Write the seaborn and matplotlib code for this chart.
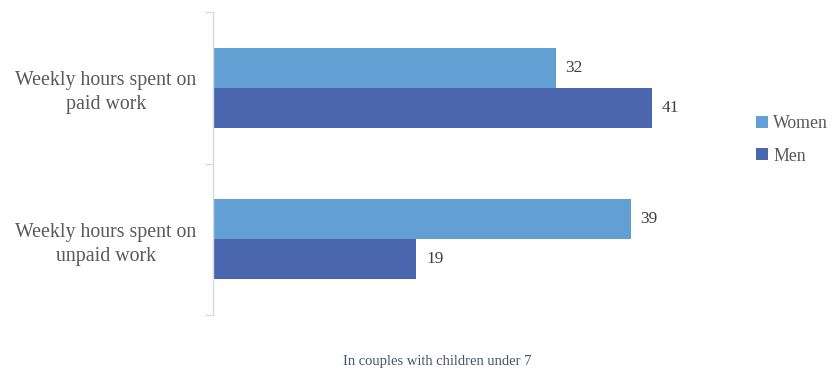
import matplotlib
matplotlib.use("Agg")
import matplotlib.pyplot as plt
import seaborn as sns
import pandas as pd

categories = ["Weekly hours spent on\npaid work", "Weekly hours spent on\nunpaid work"]
series = ["Women", "Men"]
women = [32, 39]
men = [41, 19]
caption = "In couples with children under 7"

df = pd.DataFrame({
    "category": categories * 2,
    "series": [series[0]] * 2 + [series[1]] * 2,
    "hours": women + men,
})

sns.set_theme(style="white")
plt.rcParams["font.family"] = ["Liberation Serif", "DejaVu Serif"]

fig = plt.figure(figsize=(8.32, 3.72), dpi=100)
ax = fig.add_axes([213 / 832, 1 - 315 / 372, (727 - 213) / 832, (315 - 12) / 372])

palette = {"Women": "#629FD2", "Men": "#4A66AE"}
sns.barplot(data=df, y="category", x="hours", hue="series", hue_order=series,
            order=categories, palette=palette, orient="h", width=0.525,
            saturation=1, linewidth=0, ax=ax, legend=True)

ax.set_xlim(0, 48)
ax.set_ylim(1.5, -0.5)
ax.set_xlabel("")
ax.set_ylabel("")
ax.set_xticks([])

for c in ax.containers:
    ax.bar_label(c, fmt="%d", padding=7, fontsize=12.5, color="#404040")

ax.set_yticks(range(len(categories)))
ax.set_yticklabels(categories, fontsize=14.3, color="#595959")
plt.setp(ax.get_yticklabels(), multialignment="center", linespacing=1.35)
ax.tick_params(axis="y", which="major", length=0, pad=12)
ax.set_yticks([-0.5, 0.5, 1.5], minor=True)
ax.tick_params(axis="y", which="minor", length=6, color="#D9D9D9", width=1, left=True)

for s in ["top", "right", "bottom"]:
    ax.spines[s].set_visible(False)
ax.spines["left"].set_color("#D9D9D9")
ax.spines["left"].set_linewidth(1)

leg = ax.legend(loc="center left", bbox_to_anchor=(744 / 832, 1 - 140 / 372),
                bbox_transform=fig.transFigure, frameon=False, fontsize=12.8,
                handlelength=0.65, handleheight=0.65, handletextpad=0.3,
                labelspacing=0.85, borderpad=0.2)
for t in leg.get_texts():
    t.set_color("#595959")

fig.text(437 / 832, 1 - 362 / 372, caption, ha="center", va="center",
         fontsize=10.5, color="#44546A")

fig.savefig("out.png", dpi=100)
